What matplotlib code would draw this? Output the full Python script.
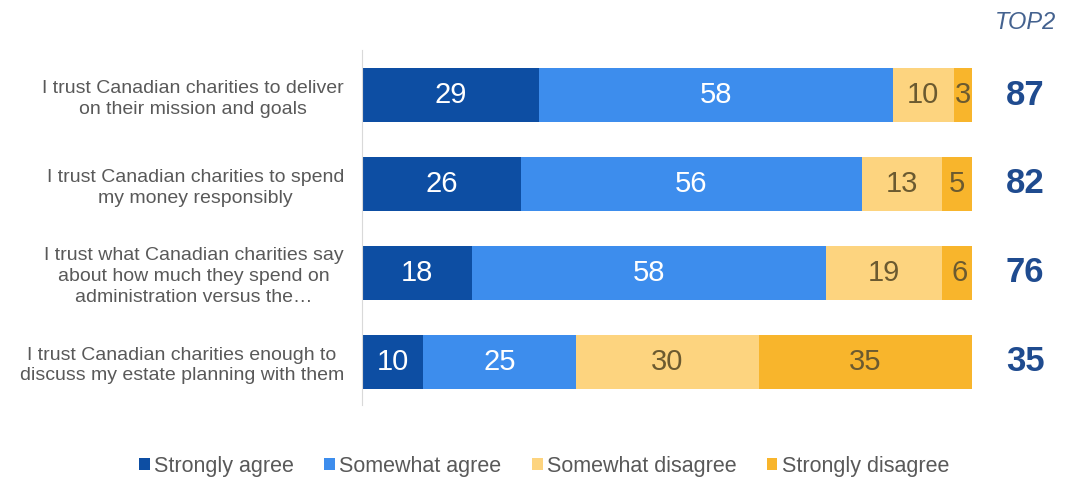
import matplotlib.pyplot as plt

plt.rcParams["font.family"] = ["Liberation Sans", "DejaVu Sans"]

# Data
statements = [
    "I trust Canadian charities to deliver\non their mission and goals",
    "I trust Canadian charities to spend\nmy money responsibly",
    "I trust what Canadian charities say\nabout how much they spend on\nadministration versus the\u2026",
    "I trust Canadian charities enough to\ndiscuss my estate planning with them",
]
strongly_agree = [29, 26, 18, 10]
somewhat_agree = [58, 56, 58, 25]
somewhat_disagree = [10, 13, 19, 30]
strongly_disagree = [3, 5, 6, 35]
top2 = [87, 82, 76, 35]

series = [
    ("Strongly agree", strongly_agree, "#0d4ea3", "white"),
    ("Somewhat agree", somewhat_agree, "#3d8ded", "white"),
    ("Somewhat disagree", somewhat_disagree, "#fdd47f", "#6b5a30"),
    ("Strongly disagree", strongly_disagree, "#f8b52c", "#6b5a30"),
]

fig = plt.figure(figsize=(10.67, 4.79), dpi=100)
ax = fig.add_axes([0.3393, 0.1545, 0.5717, 0.741])

y = list(range(len(statements)))
left = [0] * len(statements)
for name, vals, color, tcolor in series:
    ax.barh(y, vals, left=left, height=0.607, color=color, label=name)
    for i, v in enumerate(vals):
        ax.text(left[i] + v / 2, y[i], str(v), ha="center", va="center",
                color=tcolor, fontsize=21)
    left = [l + v for l, v in zip(left, vals)]

for i, t in enumerate(top2):
    ax.text(108.7, y[i], str(t), ha="center", va="center", fontsize=25,
            fontweight="bold", color="#1f4b8f", clip_on=False)
ax.text(108.7, -0.82, "TOP2", ha="center", va="center", fontsize=17,
        style="italic", color="#44628f", clip_on=False)

ax.set_xlim(0, 100)
ax.set_ylim(3.489, -0.506)
ax.set_yticks(y)
ax.set_yticklabels(statements, fontsize=14, color="#595959", ma="center",
                   linespacing=1.3)
ax.tick_params(axis="y", length=0, pad=13)
ax.set_xticks([])
for s in ["top", "right", "bottom"]:
    ax.spines[s].set_visible(False)
ax.spines["left"].set_color("#d9d9d9")

fig.legend(loc="center", bbox_to_anchor=(0.51, 0.027), ncol=4, frameon=False,
           fontsize=15.5, handlelength=0.5, handleheight=0.5,
           handletextpad=0.2, columnspacing=1.4, labelcolor="#595959")

plt.savefig("out.png", dpi=100)
